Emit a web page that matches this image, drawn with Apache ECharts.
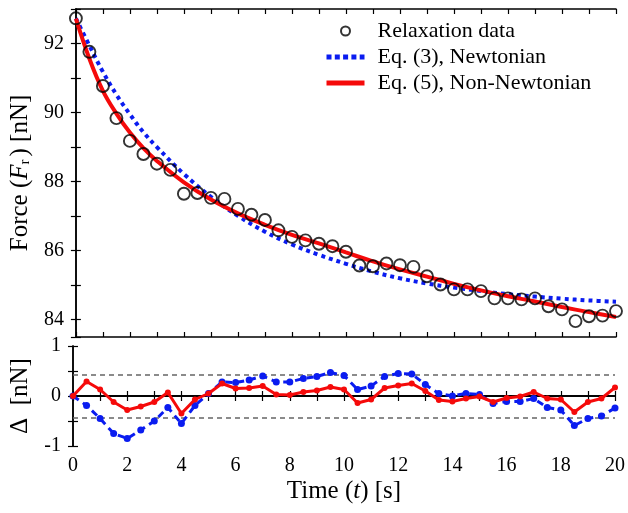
<!DOCTYPE html>
<html><head><meta charset="utf-8">
<script src="https://cdn.jsdelivr.net/npm/echarts@6/dist/echarts.min.js"></script>
<style>html,body{margin:0;padding:0;background:#fff}#c{width:628px;height:513px}</style>
</head><body><div id="c"></div>
<script>
// ---- data ----
const times = [0,0.5,1,1.5,2,2.5,3,3.5,4,4.5,5,5.5,6,6.5,7,7.5,8,8.5,9,9.5,10,
               10.5,11,11.5,12,12.5,13,13.5,14,14.5,15,15.5,16,16.5,17,17.5,18,18.5,19,19.5,20];
const force = [92.73,91.76,90.77,89.84,89.18,88.80,88.52,88.34,87.65,87.67,87.53,87.50,87.21,87.04,86.89,86.59,86.40,86.30,86.20,86.13,85.97,
               85.57,85.55,85.63,85.58,85.53,85.26,85.02,84.88,84.88,84.83,84.62,84.62,84.59,84.62,84.39,84.30,83.96,84.10,84.12,84.25];
const fitTimes = [0,0.5,1,1.5,2,2.5,3,4,5,6,7,8,9,10,11,12,13,14,15,16,17,18,19,20];
const newtonFit = [92.73,91.94,91.18,90.52,89.95,89.43,89.00,88.22,87.56,87.01,86.55,86.18,85.88,85.62,85.39,85.20,85.05,84.93,84.83,84.74,84.67,84.61,84.56,84.52];
const nonNewtonFit = [92.72,91.56,90.63,89.97,89.42,88.97,88.60,87.98,87.48,87.08,86.75,86.46,86.21,85.95,85.69,85.46,85.25,85.04,84.85,84.68,84.53,84.37,84.22,84.08];
const resNewton = [0,-0.19,-0.45,-0.75,-0.85,-0.68,-0.50,-0.23,-0.55,-0.19,0.05,0.28,0.27,0.32,0.40,0.28,0.28,0.35,0.39,0.47,0.41,
                   0.13,0.20,0.39,0.45,0.44,0.23,0.05,0.00,0.05,0.03,-0.15,-0.11,-0.11,-0.05,-0.23,-0.28,-0.59,-0.45,-0.40,-0.24];
const resNonNewton = [0,0.29,0.13,-0.12,-0.28,-0.21,-0.12,0.07,-0.35,-0.07,0.05,0.25,0.15,0.16,0.20,0.03,0.02,0.08,0.11,0.18,0.13,
                      -0.14,-0.07,0.16,0.21,0.25,0.10,-0.08,-0.11,-0.05,-0.01,-0.12,-0.04,-0.01,0.08,-0.05,-0.07,-0.32,-0.12,-0.05,0.17];
const bandLimit = 0.43;
const legendNames = ['Relaxation data','Eq. (3), Newtonian','Eq. (5), Non-Newtonian'];

const pair = (xs, ys) => xs.map((x, i) => [x, ys[i]]);
const FONT = 'Liberation Serif';
const isEvenInt = v => Math.abs(v - Math.round(v)) < 1e-6 && Math.round(v) % 2 === 0;
const BLUE = '#0a1cf0', RED = '#f50a0a';

const chart = echarts.init(document.getElementById('c'), null, {renderer: 'canvas'});

const axLine = {show: true, lineStyle: {color: '#000', width: 1.5}};
const tick = {show: true, inside: true, length: 5, lineStyle: {color: '#000', width: 1.2}};
const lbl = {fontFamily: FONT, fontSize: 20, color: '#000'};
const hiddenSym = {opacity: 0, color: 'rgba(0,0,0,0)', borderWidth: 0};

function xAx(grid, pos, showLabel) {
  return {type: 'value', gridIndex: grid, position: pos, min: 0, max: 20, interval: 1,
    axisLine: axLine, axisTick: tick, splitLine: {show: false},
    axisLabel: {show: showLabel, ...lbl, margin: 10, formatter: v => isEvenInt(v) ? String(Math.round(v)) : ''}};
}

const option = {
  animation: false,
  backgroundColor: '#fff',
  grid: [
    {left: 73, right: 12, top: 9, height: 328},
    {left: 73, right: 12, top: 346, height: 100}
  ],
  legend: {
    data: [
      {name: legendNames[0]},
      {name: legendNames[1], itemStyle: hiddenSym, lineStyle: {width: 5, type: [5, 3.3], color: BLUE}},
      {name: legendNames[2], itemStyle: hiddenSym, lineStyle: {width: 5, color: RED}}
    ],
    orient: 'vertical', left: 319, top: 15,
    itemWidth: 38, itemHeight: 9, itemGap: 4,
    textStyle: {fontFamily: FONT, fontSize: 22, color: '#000', padding: [0, 0, 0, 8]}
  },
  xAxis: [
    xAx(0, 'bottom', false),
    xAx(0, 'top', false),
    {...xAx(1, 'bottom', true), name: 'Time ({it|t}) [s]', nameLocation: 'middle', nameGap: 33,
      nameTextStyle: {fontFamily: FONT, fontSize: 25, color: '#000',
        rich: {it: {fontFamily: FONT, fontSize: 25, fontStyle: 'italic', color: '#000'}}}},
    xAx(1, 'top', false)
  ],
  yAxis: [
    {type: 'value', gridIndex: 0, position: 'left', min: 83.5, max: 93, splitNumber: 9, minInterval: 1, maxInterval: 1,
      axisLine: axLine, axisTick: tick, splitLine: {show: false},
      axisLabel: {...lbl, margin: 12, formatter: v => isEvenInt(v) ? String(Math.round(v)) : ''},
      name: 'Force ({it|F}{sub|r}) [nN]', nameLocation: 'middle', nameGap: 38,
      nameTextStyle: {fontFamily: FONT, fontSize: 25, color: '#000',
        rich: {it: {fontFamily: FONT, fontSize: 25, fontStyle: 'italic', color: '#000'},
               sub: {fontFamily: FONT, fontSize: 15, color: '#000', verticalAlign: 'bottom', padding: [0, 3, 0, 0]}}}},
    {type: 'value', gridIndex: 0, position: 'right', min: 83.5, max: 93, splitNumber: 9, minInterval: 1, maxInterval: 1,
      axisLine: axLine, axisTick: tick, splitLine: {show: false}, axisLabel: {show: false}},
    {type: 'value', gridIndex: 1, position: 'left', min: -1, max: 1, interval: 0.5,
      axisLine: axLine, axisTick: tick, splitLine: {show: false},
      axisLabel: {...lbl, margin: 12, formatter: v => Math.abs(v - Math.round(v)) < 1e-6 ? (Math.round(v) < 0 ? '-' + Math.abs(Math.round(v)) : String(Math.round(v))) : ''},
      name: 'Δ  [nN]', nameLocation: 'middle', nameGap: 40,
      nameTextStyle: {fontFamily: FONT, fontSize: 25, color: '#000'}},
    {type: 'value', gridIndex: 1, position: 'right', min: -1, max: 1, interval: 0.5,
      axisLine: axLine, axisTick: tick, splitLine: {show: false}, axisLabel: {show: false}}
  ],
  series: [
    {name: legendNames[1], type: 'line', xAxisIndex: 0, yAxisIndex: 0, data: pair(fitTimes, newtonFit),
      smooth: 0.4, showSymbol: false, symbol: 'none', z: 2,
      lineStyle: {color: BLUE, width: 4, type: [4, 4]}, itemStyle: {color: BLUE}},
    {name: legendNames[2], type: 'line', xAxisIndex: 0, yAxisIndex: 0, data: pair(fitTimes, nonNewtonFit),
      smooth: 0.4, showSymbol: false, symbol: 'none', z: 3,
      lineStyle: {color: RED, width: 4}, itemStyle: {color: RED}},
    {name: legendNames[0], type: 'scatter', xAxisIndex: 0, yAxisIndex: 0, data: pair(times, force),
      symbol: 'circle', symbolSize: 12, z: 4,
      itemStyle: {color: 'rgba(255,255,255,0)', borderColor: '#000', borderWidth: 1.9}},
    {name: 'resN', type: 'line', xAxisIndex: 2, yAxisIndex: 2, data: pair(times, resNewton),
      symbol: 'circle', symbolSize: 7, z: 3,
      lineStyle: {color: BLUE, width: 3, type: [7, 5]}, itemStyle: {color: BLUE},
      markLine: {silent: true, symbol: 'none', z: 1, label: {show: false},
        data: [
          {yAxis: 0, lineStyle: {color: '#000', width: 1.5, type: 'solid'}},
          {yAxis: bandLimit, lineStyle: {color: '#666', width: 1.5, type: [5, 4]}},
          {yAxis: -bandLimit, lineStyle: {color: '#666', width: 1.5, type: [5, 4]}}
        ]}},
    {name: 'resNN', type: 'line', xAxisIndex: 2, yAxisIndex: 2, data: pair(times, resNonNewton),
      symbol: 'circle', symbolSize: 6, z: 4,
      lineStyle: {color: RED, width: 3}, itemStyle: {color: RED}}
  ]
};
chart.setOption(option);
</script>
</body></html>
